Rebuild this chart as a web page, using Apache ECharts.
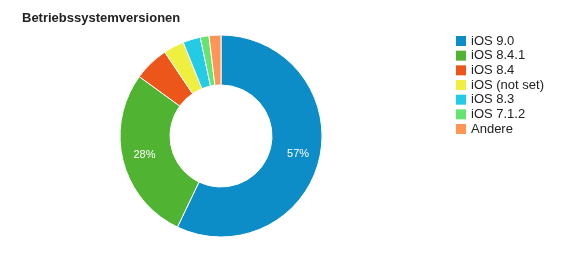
<!DOCTYPE html>
<html>
<head>
<meta charset="utf-8">
<script src="https://cdn.jsdelivr.net/npm/echarts@6/dist/echarts.min.js"></script>
<style>
html,body{margin:0;padding:0;background:#fff;}
#c{width:567px;height:258px;}
</style>
</head>
<body>
<div id="c"></div>
<script>
var title = 'Betriebssystemversionen';
var categories = ['iOS 9.0', 'iOS 8.4.1', 'iOS 8.4', 'iOS (not set)', 'iOS 8.3', 'iOS 7.1.2', 'Andere'];
var values = [57.1, 27.9, 5.6, 3.3, 2.8, 1.4, 1.9];
var colors = ['#0d8dc7', '#50b432', '#ed561b', '#eeef3f', '#24cbe5', '#64e572', '#ff9655'];

var chart = echarts.init(document.getElementById('c'), null, {renderer: 'canvas'});
chart.setOption({
  animation: false,
  color: colors,
  title: {
    text: title,
    left: 17,
    top: 7,
    textStyle: {fontFamily: 'Liberation Sans, Arial, sans-serif', fontSize: 13, fontWeight: 'bold', color: '#222'}
  },
  legend: {
    orient: 'vertical',
    left: 451,
    top: 29.5,
    itemWidth: 10,
    itemHeight: 10,
    itemGap: 1.67,
    icon: 'rect',
    itemStyle: {borderWidth: 0},
    textStyle: {fontFamily: 'Liberation Sans, Arial, sans-serif', fontSize: 13, color: '#222'},
    data: categories
  },
  series: [{
    type: 'pie',
    center: [221, 136],
    radius: [51, 101],
    startAngle: 90,
    clockwise: true,
    itemStyle: {borderColor: '#fff', borderWidth: 1},
    label: {
      position: 'inside',
      color: '#fff',
      fontFamily: 'Liberation Sans, Arial, sans-serif',
      fontSize: 11,
      formatter: function (p) { return p.percent >= 10 ? Math.round(p.percent) + '%' : ''; }
    },
    labelLine: {show: false},
    emphasis: {disabled: true},
    data: categories.map(function (c, i) { return {name: c, value: values[i]}; })
  }]
});
</script>
</body>
</html>
